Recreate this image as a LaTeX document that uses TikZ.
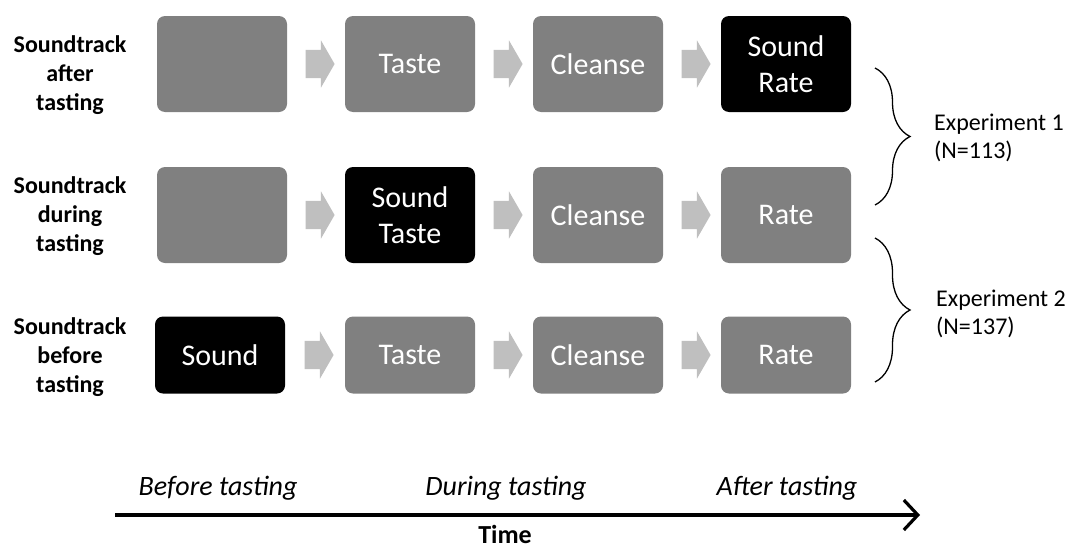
\documentclass[tikz,border=0pt]{standalone}
\usepackage{fontspec}
\setmainfont{Carlito}
\usetikzlibrary{calc}
\usetikzlibrary{positioning}
\usetikzlibrary{shapes.arrows}
\usetikzlibrary{arrows.meta}
\usetikzlibrary{decorations.pathreplacing}
\definecolor{stagegray}{RGB}{128,128,128}
\definecolor{flowgray}{RGB}{191,191,191}
\tikzset{
  stage/.style={rectangle, rounded corners=8pt, fill=stagegray, text=white,
    minimum width=130pt, minimum height=96pt, inner sep=0pt, align=center,
    font=\fontsize{30}{36}\selectfont},
  sound/.style={stage, fill=black},
  short/.style={minimum height=77pt},
  flow/.style={single arrow, fill=flowgray, inner xsep=0pt, inner ysep=14pt,
    minimum height=29pt, single arrow head extend=9.5pt, single arrow tip angle=120},
  rowlabel/.style={align=center, inner sep=0pt, font=\fontsize{24}{29}\selectfont\bfseries},
  explabel/.style={align=left, inner sep=0pt, anchor=west, font=\fontsize{24}{28}\selectfont},
  phase/.style={inner sep=0pt, font=\fontsize{28}{32}\selectfont\itshape},
  axislabel/.style={inner sep=0pt, anchor=base, font=\fontsize{26}{29}\selectfont\bfseries},
  brace/.style={decorate, decoration={brace, amplitude=35pt}, line width=1.3pt},
}

\begin{document}
\begin{tikzpicture}[x=1pt, y=-1pt]
  \useasboundingbox (0,0) rectangle (1074,549);

  % soundtrack after tasting
  \node [stage] (aft1) at (222,64) {};
  \node [stage] (aft2) at (410,64) {Taste};
  \node [stage] (aft3) at (598,64) {Cleanse};
  \node [sound] (aft4) at (786,64) {Sound\\Rate};

  % soundtrack during tasting
  \node [stage] (dur1) at (222,215) {};
  \node [sound] (dur2) at (410,215) {Sound\\Taste};
  \node [stage] (dur3) at (598,215) {Cleanse};
  \node [stage] (dur4) at (786,215) {Rate};

  % soundtrack before tasting
  \node [sound, short] (bef1) at (220,355) {Sound};
  \node [stage, short] (bef2) at (410,355) {Taste};
  \node [stage, short] (bef3) at (598,355) {Cleanse};
  \node [stage, short] (bef4) at (786,355) {Rate};

  \foreach \r in {aft,dur,bef}
    \foreach \a/\b in {1/2,2/3,3/4}
      \node [flow] (\r\a\b) at ($(\r\a)!0.5!(\r\b)$) {};

  \node [rowlabel] (lab1) at (70,75) {Soundtrack\\after\\tasting};
  \node [rowlabel] (lab2) at (70,216) {Soundtrack\\during\\tasting};
  \node [rowlabel] (lab3) at (70,357) {Soundtrack\\before\\tasting};

  \coordinate (b1top) at (875,68);
  \coordinate (b1bot) at (875,205);
  \coordinate (b2top) at (875,238);
  \coordinate (b2bot) at (875,382);
  \draw [brace] (b1top) -- (b1bot);
  \draw [brace] (b2top) -- (b2bot);
  \node [explabel] (exp1) at (934,138) {Experiment 1\\(N=113)};
  \node [explabel] (exp2) at (936,314) {Experiment 2\\(N=137)};

  % time axis
  \coordinate (t0) at (115,515);
  \coordinate (t1) at (920,515);
  \draw [line width=3.2pt, -{Straight Barb[length=14pt, width=30pt, line width=3.2pt]}] (t0) -- (t1);
  \node [phase] (ph1) at (218,488) {Before tasting};
  \node [phase] (ph2) at (506,488) {During tasting};
  \node [phase] (ph3) at (787,488) {After tasting};
  \node [axislabel] (time) at (505,543) {Time};
\end{tikzpicture}
\end{document}
